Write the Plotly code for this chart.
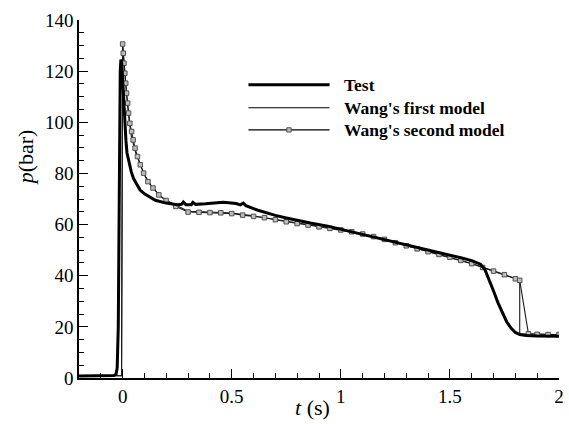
import plotly.graph_objects as go

# ---- measured pressure history (Test) ----
test_t = [-0.2, -0.1, -0.04, -0.03, -0.025, -0.02, -0.017, -0.014, -0.011, -0.008,
          -0.004, 0.0, 0.005, 0.01, 0.015, 0.02, 0.03, 0.04, 0.05, 0.063, 0.08, 0.1,
          0.124, 0.15, 0.2, 0.25, 0.27, 0.278, 0.29, 0.315, 0.322, 0.335, 0.38, 0.42,
          0.46, 0.486, 0.52, 0.54, 0.553, 0.565, 0.58, 0.6, 0.62, 0.65, 0.7, 0.75, 0.8,
          0.86, 0.94, 1.0, 1.1, 1.2, 1.3, 1.4, 1.5, 1.55, 1.6, 1.62, 1.64, 1.66, 1.68,
          1.70, 1.72, 1.74, 1.76, 1.78, 1.80, 1.82, 1.85, 1.9, 2.0]
test_p = [0.8, 0.9, 1.0, 1.5, 4.0, 20.0, 60.0, 100.0, 120.0, 124.5,
          123.0, 117.0, 108.0, 100.0, 93.0, 88.0, 84.0, 80.5, 78.0, 76.0, 73.5, 72.0,
          70.8, 69.5, 68.4, 67.8, 67.9, 68.8, 67.8, 67.8, 68.7, 67.9, 68.1, 68.4,
          68.7, 68.5, 68.2, 67.7, 68.4, 67.4, 66.8, 66.2, 65.6, 64.8, 63.6, 62.6, 61.6,
          60.6, 59.4, 58.2, 56.2, 54.2, 52.1, 50.0, 48.0, 47.0, 45.9, 45.3, 44.5, 42.5, 38.5,
          34.0, 29.5, 25.5, 22.0, 19.5, 17.8, 17.0, 16.6, 16.4, 16.3]

# ---- Wang's second model (sampled points, drawn with square symbols) ----
m2_t = [0.0, 0.003, 0.006, 0.010, 0.014, 0.018, 0.023, 0.027, 0.033, 0.041, 0.048,
        0.057, 0.068, 0.081, 0.096, 0.116, 0.139, 0.166, 0.199, 0.244, 0.30, 0.35,
        0.40, 0.45, 0.50, 0.55, 0.60, 0.65, 0.70, 0.75, 0.80, 0.85, 0.90, 0.95, 1.00,
        1.05, 1.10, 1.15, 1.20, 1.25, 1.30, 1.35, 1.40, 1.45, 1.50, 1.55, 1.60, 1.65,
        1.70, 1.75, 1.80, 1.82, 1.86, 1.90, 1.95, 2.0]
m2_p = [130.6, 127.0, 123.1, 119.2, 115.3, 111.4, 107.5, 103.6, 99.6, 96.4, 93.1,
        89.9, 86.6, 83.4, 80.1, 76.8, 74.3, 71.6, 69.4, 67.1, 64.9, 64.8,
        64.7, 64.6, 64.3, 63.7, 63.2, 62.7, 61.9, 61.1, 60.4, 59.8, 59.1, 58.5, 57.9,
        57.2, 56.3, 55.3, 54.2, 52.9, 51.7, 50.5, 49.4, 48.3, 47.2, 46.0, 44.7, 43.2,
        41.8, 40.4, 38.8, 38.2, 17.3, 17.1, 17.0, 17.0]

# initial state before the pressure jump (shared by both models)
pre_t = [-0.2, -0.005]
pre_p = [0.9, 0.9]

# ---- Wang's first model ----
m1_t = [-0.2, -0.005, 0.0, 0.005, 0.01, 0.02, 0.03, 0.04, 0.06, 0.08, 0.10, 0.13,
        0.17, 0.20, 0.25, 0.30, 0.40, 0.50, 0.60, 0.70, 0.80, 0.90, 1.00, 1.10, 1.20,
        1.30, 1.40, 1.50, 1.60, 1.70, 1.80, 1.82, 1.82, 1.90, 2.0]
m1_p = [0.9, 0.9, 130.0, 124.5, 118.5, 109.0, 100.5, 94.5, 88.0, 83.5, 79.5, 75.3,
        71.3, 69.5, 67.3, 65.2, 64.9, 64.5, 63.4, 62.1, 60.6, 59.3, 58.0, 56.4, 54.3,
        51.8, 49.5, 47.3, 44.8, 41.9, 38.9, 38.3, 17.3, 17.1, 17.0]

FONT = "Liberation Serif"

fig = go.Figure()

fig.add_trace(go.Scatter(x=m1_t, y=m1_p, mode="lines", name="Wang's first model",
                         line=dict(color="#1a1a1a", width=1.1), showlegend=False))
fig.add_trace(go.Scatter(x=pre_t + m2_t, y=pre_p + m2_p, mode="lines",
                         name="Wang's second model",
                         line=dict(color="#1a1a1a", width=1.1), showlegend=False))
fig.add_trace(go.Scatter(x=m2_t, y=m2_p, mode="markers", name="Wang's second model",
                         marker=dict(symbol="square", size=4.5, color="#bdbdbd",
                                     line=dict(color="#505050", width=1)),
                         showlegend=False))
fig.add_trace(go.Scatter(x=test_t, y=test_p, mode="lines", name="Test",
                         line=dict(color="#000000", width=3), showlegend=False))

# ---- legend drawn as paper-referenced shapes and text ----
legend_rows = [("Test", 3.0, False, 0.819),
               ("Wang's first model", 1.1, False, 0.755),
               ("Wang's second model", 1.1, True, 0.693)]
x0, x1, xt = 0.353, 0.522, 0.548
for label, width, with_marker, yy in legend_rows:
    fig.add_shape(type="line", xref="paper", yref="paper", x0=x0, x1=x1, y0=yy, y1=yy,
                  line=dict(color="#000000", width=width))
    if with_marker:
        xm = (x0 + x1) / 2
        fig.add_shape(type="rect", xref="paper", yref="paper",
                      x0=xm - 0.0045, x1=xm + 0.0045, y0=yy - 0.006, y1=yy + 0.006,
                      fillcolor="#bdbdbd", line=dict(color="#505050", width=1))
    fig.add_annotation(x=xt, y=yy, xref="paper", yref="paper", text=f"<b>{label}</b>",
                       showarrow=False, xanchor="left", yanchor="middle",
                       font=dict(family=FONT, size=17.5, color="#000000"))

# axis titles
fig.add_annotation(x=0.486, y=-0.083, xref="paper", yref="paper",
                   text="<i>t</i> (s)", showarrow=False, xanchor="center",
                   yanchor="middle", font=dict(family=FONT, size=22, color="#000000"))
fig.add_annotation(x=-0.112, y=0.617, xref="paper", yref="paper",
                   text="<i>p</i>(bar)", showarrow=False, textangle=-90,
                   xanchor="center", yanchor="middle",
                   font=dict(family=FONT, size=22, color="#000000"))

axis_common = dict(showgrid=False, zeroline=False, showline=True, linecolor="#000000",
                   linewidth=1.5, ticks="inside", ticklen=9, tickwidth=1.3,
                   tickcolor="#000000", mirror=False,
                   tickfont=dict(family=FONT, size=19, color="#000000"))

fig.update_layout(
    width=569, height=424,
    margin=dict(l=79, r=5, t=20, b=46),
    paper_bgcolor="white", plot_bgcolor="white",
    font=dict(family=FONT),
    xaxis=dict(range=[-0.2, 2.0], tickvals=[0, 0.5, 1, 1.5, 2],
               ticktext=["0", "0.5", "1", "1.5", "2"],
               minor=dict(dtick=0.1, tick0=0, ticks="inside", ticklen=5,
                          tickcolor="#000000", tickwidth=1),
               **axis_common),
    yaxis=dict(range=[0, 140], dtick=20, tick0=0,
               minor=dict(dtick=5, tick0=0, ticks="inside", ticklen=5,
                          tickcolor="#000000", tickwidth=1),
               **axis_common),
)

fig.write_html("out.html")
